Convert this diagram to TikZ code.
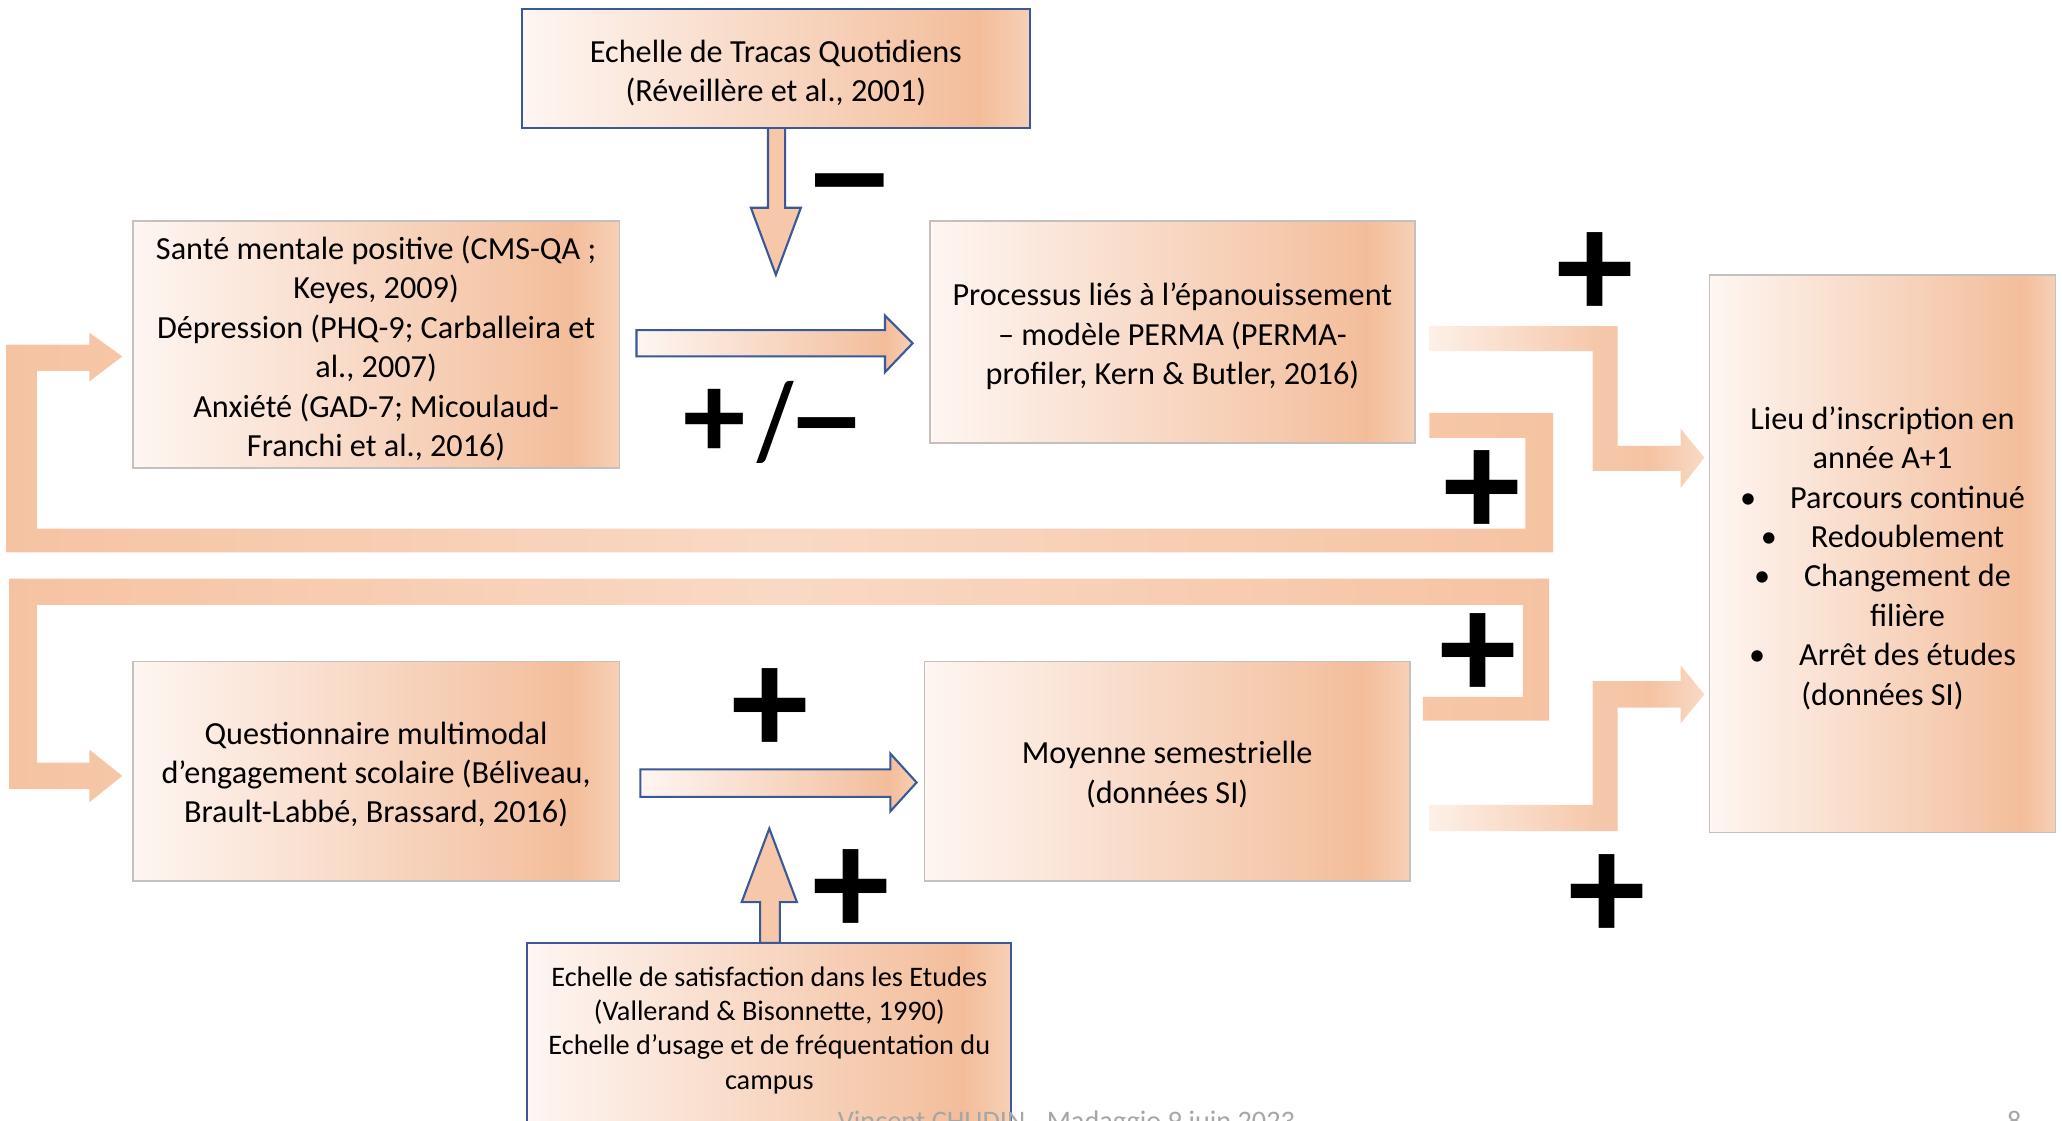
\documentclass[tikz,border=0pt]{standalone}
\usepackage{fontspec}
\setmainfont{Carlito}
\definecolor{bA}{HTML}{FEF6F2}
\definecolor{bB}{HTML}{F9DDCC}
\definecolor{bC}{HTML}{F5C8AB}
\definecolor{bD}{HTML}{F3BD9A}
\definecolor{bE}{HTML}{F7D0B6}
\definecolor{pA}{HTML}{F5C3A2}
\definecolor{pB}{HTML}{F9D9C5}
\definecolor{pL}{HTML}{FDF0E8}
\definecolor{peach}{HTML}{F6C7A9}
\definecolor{boxgray}{HTML}{C4C0BE}
\definecolor{blueln}{HTML}{3B5998}
\definecolor{footgray}{HTML}{A6A6A6}
\pgfdeclarehorizontalshading{boxshade}{100bp}{color(0bp)=(bA); color(25bp)=(bA); color(45bp)=(bB); color(62bp)=(bC); color(70bp)=(bD); color(75bp)=(bE); color(100bp)=(bE)}
\pgfdeclarehorizontalshading{loopshade}{100bp}{color(0bp)=(pA); color(25bp)=(pA); color(50bp)=(pB); color(75bp)=(pA); color(100bp)=(pA)}
\pgfdeclarehorizontalshading{bentshade}{100bp}{color(0bp)=(pL); color(25bp)=(pL); color(55bp)=(bC); color(65bp)=(pA); color(75bp)=(pB); color(100bp)=(pB)}
\newcommand\tstrut{\rule{0pt}{24pt}}
\newcommand\tstrutb{\rule{0pt}{22pt}}
\newcommand\wdash{\scalebox{1.25}[1]{–}}
\begin{document}
\begin{tikzpicture}[x=1pt,y=-1pt,
  box/.style={draw=boxgray, line width=1.3pt, shading=boxshade, align=center,
    font=\fontsize{24.5}{30}\selectfont, inner sep=0pt},
  bluebox/.style={draw=blueln, line width=1.6pt, shading=boxshade},
  bluearrow/.style={draw=blueln, line width=1.6pt, line join=miter, shading=boxshade},
  vblue/.style={draw=blueln, line width=1.6pt, line join=miter, fill=peach},
  loop/.style={shading=loopshade},
  bent/.style={shading=bentshade},
  sign/.style={font=\fontsize{118}{118}\selectfont\bfseries, inner sep=0pt, anchor=base},
  smalltxt/.style={align=center, font=\fontsize{21.5}{26}\selectfont, inner sep=0pt},
  foot/.style={text=footgray, font=\fontsize{21.5}{24}\selectfont, inner sep=0pt, anchor=base west}]
\useasboundingbox (0,0) rectangle (1568,852);
\fill[white] (0,0) rectangle (1568,852);

% feedback loops
\path[loop] (1087,314) -- (1181,314) -- (1181,420) -- (5,420) -- (5,262) -- (68,262)
  -- (68,253) -- (93,271) -- (68,290) -- (68,282) -- (28,282) -- (28,402) -- (1160,402)
  -- (1160,333) -- (1087,333) -- cycle;
\path[loop] (1082,530) -- (1158,530) -- (1158,460) -- (28,460) -- (28,580) -- (68,580)
  -- (68,570) -- (93,590) -- (68,610) -- (68,600) -- (7,600) -- (7,440) -- (1178,440)
  -- (1178,548) -- (1082,548) -- cycle;

% bent connectors to Lieu
\path[bent] (1087,248) -- (1230,248) -- (1230,339) -- (1278,339) -- (1278,326) -- (1296,348)
  -- (1278,371) -- (1278,358) -- (1211,358) -- (1211,267) -- (1087,267) -- cycle;
\path[bent] (1087,612) -- (1211,612) -- (1211,518) -- (1278,518) -- (1278,506) -- (1296,528)
  -- (1278,550) -- (1278,538) -- (1230,538) -- (1230,632) -- (1087,632) -- cycle;

% vertical blue arrows
\path[vblue] (584,97) -- (584,158) -- (571,158) -- (590,209) -- (609,158) -- (597,158) -- (597,97) -- cycle;
\path[vblue] (578,717) -- (578,686) -- (564,686) -- (585,630) -- (606,686) -- (593,686) -- (593,717) -- cycle;

% horizontal blue arrows
\path[bluearrow] (484,251) -- (673,251) -- (673,240) -- (694,261) -- (673,283) -- (673,271) -- (484,271) -- cycle;
\path[bluearrow] (487,585) -- (677,585) -- (677,573) -- (697,595) -- (677,617) -- (677,606) -- (487,606) -- cycle;

% boxes
\node[box, bluebox, minimum width=386, minimum height=90] (tracas) at (590,52)
  {\tstrut Echelle de Tracas Quotidiens\\(Réveillère et al., 2001)};
\node[box, minimum width=370, minimum height=188] (sante) at (286,262)
  {\tstrut Santé mentale positive (CMS-QA ;\\Keyes, 2009)\\Dépression (PHQ-9; Carballeira et\\al., 2007)\\Anxiété (GAD-7; Micoulaud-\\Franchi et al., 2016)};
\node[box, minimum width=369, minimum height=169] (perma) at (891.5,252.5)
  {\tstrut Processus liés à l’épanouissement\\– modèle PERMA (PERMA-\\profiler, Kern \& Butler, 2016)};
\node[box, minimum width=263, minimum height=424] (lieu) at (1431.5,421)
  {\tstrut Lieu d’inscription en\\année A+1\\\makebox[38pt][l]{•}Parcours continué\\\makebox[38pt][l]{•}Redoublement\\\makebox[38pt][l]{•}Changement de\\\hspace*{38pt}filière\\\makebox[38pt][l]{•}Arrêt des études\\(données SI)};
\node[box, minimum width=370, minimum height=167] (quest) at (286,586.5)
  {\tstrutb Questionnaire multimodal\\d’engagement scolaire (Béliveau,\\Brault-Labbé, Brassard, 2016)};
\node[box, minimum width=369, minimum height=167] (moy) at (887.5,586.5)
  {\tstrutb Moyenne semestrielle\\(données SI)};
\path[bluebox] (401,717) rectangle (769,875);
\node[smalltxt] (satis) at (585,783.5)
  {Echelle de satisfaction dans les Etudes\\(Vallerand \& Bisonnette, 1990)\\Echelle d’usage et de fréquentation du\\campus};

% signs
\node[sign] (m1) at (646,171) {\wdash};
\node[sign, font=\fontsize{95}{95}\selectfont\bfseries] (pm) at (589.5,349)
  {+\hspace{9.5pt}\scalebox{0.67}[0.88]{/}\hspace{-5.5pt}\scalebox{1.3}[1]{–}};
\node[sign] (p1) at (1213,242) {+};
\node[sign] (p2) at (1127,408) {+};
\node[sign] (p3) at (1124,532) {+};
\node[sign] (p4) at (1222,715) {+};
\node[sign] (p5) at (586,574) {+};
\node[sign] (p6) at (647,711) {+};

% footer (cut by page edge)
\node[foot] (footer) at (637,860) {Vincent CHUDIN - Madaggio 9 juin 2023};
\node[foot] (pagenum) at (1526,860) {8};
\end{tikzpicture}
\end{document}
